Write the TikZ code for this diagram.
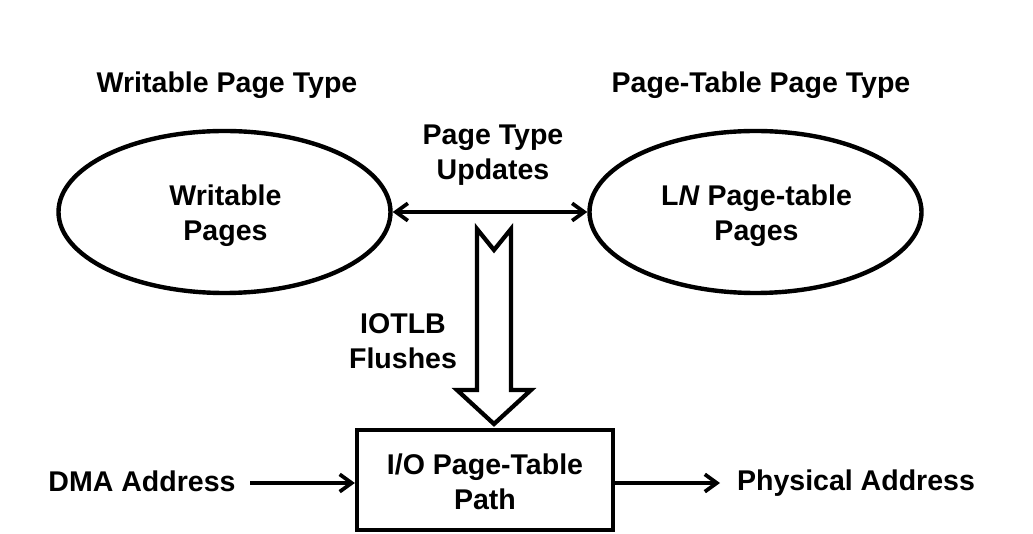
\documentclass[tikz,border=0pt]{standalone}
\usepackage{fontspec}
\setmainfont{Liberation Sans}
\usetikzlibrary{shapes.geometric,arrows.meta}
\begin{document}
\begin{tikzpicture}[x=0.75pt,y=-0.75pt,
  lbl/.style={font=\fontsize{21.4}{26.25}\selectfont\bfseries, align=center, inner sep=0pt},
  oval/.style={ellipse, draw, line width=3.3pt, minimum width=249pt, minimum height=121.5pt, inner sep=0pt, lbl},
  pbox/.style={rectangle, draw, line width=3.2pt, minimum width=192pt, minimum height=75pt, inner sep=0pt, lbl},
  conn/.style={line width=2.8pt, -{Straight Barb[length=9pt,width=13pt,line width=2.8pt]}},
  dconn/.style={line width=2.8pt, {Straight Barb[length=9pt,width=13pt,line width=2.8pt]}-{Straight Barb[length=9pt,width=13pt,line width=2.8pt]}},
  blockarrow/.style={draw, line width=3.2pt, fill=white, miter limit=10}
]
\useasboundingbox (0,0) rectangle (1033,534);
\node[lbl] (t1) at (227,85) {Writable Page Type};
\node[lbl] (t2) at (761,85) {Page-Table Page Type};
\node[oval] (wp) at (224.5,212) {};
\node[lbl] (wpt) at (225.5,215.5) {Writable\\Pages};
\node[oval] (ln) at (755.5,212) {};
\node[lbl] (lnt) at (756.5,215.5) {L\textit{N} Page-table\\Pages};
\node[lbl] (upd) at (493,155.5) {Page Type\\Updates};
\draw[dconn] (wp.east) -- (ln.west);
\node[pbox] (io) at (485,480) {};
\node[lbl] (iot) at (485,482) {I/O Page-Table\\Path};
\node[lbl] (iotlb) at (403,341.5) {IOTLB\\Flushes};
\coordinate (ba) at (494,424);
\draw[blockarrow] (477,229) -- (494,250) -- (511,229) -- (511,390) -- (531,390) -- (ba) -- (457,390) -- (477,390) -- cycle;
\node[lbl] (dma) at (142,481) {DMA Address};
\node[lbl] (phys) at (856,483) {Physical Address};
\draw[conn] (250,483) -- (io.west |- 0,483);
\coordinate (pend) at (720,483);
\draw[conn] (io.east |- 0,483) -- (pend);
\end{tikzpicture}
\end{document}
